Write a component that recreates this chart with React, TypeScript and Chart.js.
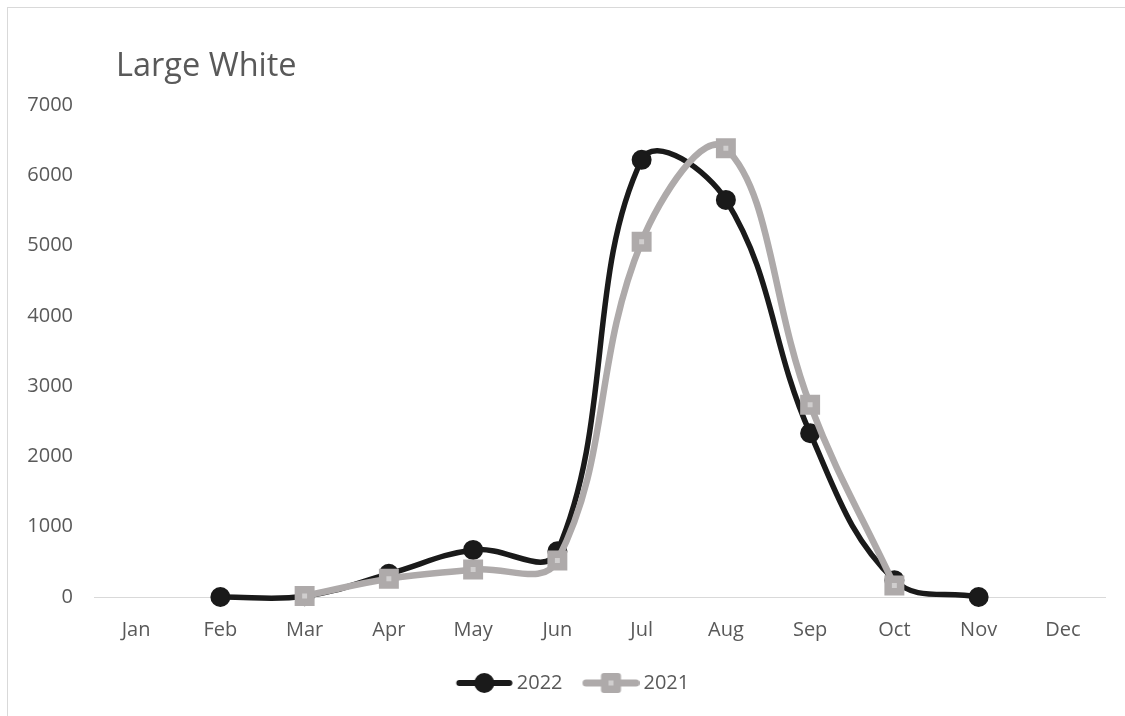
import React, { useEffect, useRef } from "react";
import { Chart, registerables } from "chart.js";

Chart.register(...registerables);

const TITLE = "Large White";
const MONTHS = ["Jan", "Feb", "Mar", "Apr", "May", "Jun", "Jul", "Aug", "Sep", "Oct", "Nov", "Dec"];
const SERIES_2022_LABEL = "2022";
const SERIES_2021_LABEL = "2021";
const VALUES_2022: (number | null)[] = [null, 0, 10, 330, 670, 650, 6220, 5650, 2330, 240, 0, null];
const VALUES_2021: (number | null)[] = [null, null, 15, 260, 390, 520, 5055, 6385, 2735, 165, null, null];
const Y_TICKS = [0, 1000, 2000, 3000, 4000, 5000, 6000, 7000];

const BLACK = "#1a1a1a";
const GRAY = "#aeaaaa";
const GRAY_LIGHT = "#d0cece";
const TEXT = "#595959";
const FONT = "'Open Sans', sans-serif";
const ICON_W = 51;

function legendIcon(kind: "circle" | "square"): HTMLCanvasElement {
  const c = document.createElement("canvas");
  c.width = ICON_W + 12;
  c.height = 24;
  const ctx = c.getContext("2d")!;
  const x0 = 6;
  const x1 = ICON_W + 12;
  const cx = (x0 + x1) / 2;
  ctx.lineCap = "round";
  ctx.lineWidth = kind === "circle" ? 6 : 7;
  ctx.strokeStyle = kind === "circle" ? BLACK : GRAY;
  ctx.beginPath();
  ctx.moveTo(x0 + 3.5, 12);
  ctx.lineTo(x1 - 3.5, 12);
  ctx.stroke();
  if (kind === "circle") {
    ctx.fillStyle = BLACK;
    ctx.beginPath();
    ctx.arc(cx, 12, 10, 0, Math.PI * 2);
    ctx.fill();
  } else {
    ctx.fillStyle = GRAY;
    ctx.beginPath();
    (ctx as any).roundRect ? (ctx as any).roundRect(cx - 10, 2, 20, 20, 3) : ctx.rect(cx - 10, 2, 20, 20);
    ctx.fill();
    ctx.fillStyle = GRAY_LIGHT;
    ctx.fillRect(cx - 2.5, 9.5, 5, 5);
  }
  return c;
}

export default function App() {
  const ref = useRef<HTMLCanvasElement>(null);

  useEffect(() => {
    if (!ref.current) return;
    const icons = [legendIcon("circle"), legendIcon("square")];
    const titlePlugin = {
      id: "excelTitle",
      afterLayout(chart: any) {
        const lg = chart.legend;
        if (lg) {
          lg.left += 20;
          lg.right += 20;
        }
      },
      afterDraw(chart: any) {
        const { ctx, chartArea } = chart;
        ctx.save();
        ctx.font = `32.5px ${FONT}`;
        ctx.fillStyle = TEXT;
        ctx.textBaseline = "middle";
        ctx.textAlign = "left";
        ctx.fillText(TITLE, chartArea.left + 22, 67);
        ctx.restore();
      },
    };
    const chart = new Chart(ref.current, {
      type: "line",
      data: {
        labels: MONTHS,
        datasets: [
          {
            label: SERIES_2022_LABEL,
            data: VALUES_2022,
            order: 1,
            clip: 12,
            borderColor: BLACK,
            backgroundColor: BLACK,
            borderWidth: 5.5,
            tension: 0.4,
            pointStyle: "circle",
            pointRadius: 9,
            pointBorderWidth: 2,
            pointBackgroundColor: BLACK,
            pointBorderColor: BLACK,
            borderCapStyle: "round",
          },
          {
            label: SERIES_2021_LABEL,
            data: VALUES_2021,
            order: 0,
            clip: 12,
            borderColor: GRAY,
            backgroundColor: GRAY_LIGHT,
            borderWidth: 6.5,
            tension: 0.4,
            pointStyle: "rect",
            pointRadius: 8.8,
            pointBorderWidth: 7.5,
            pointBackgroundColor: GRAY_LIGHT,
            pointBorderColor: GRAY,
            borderCapStyle: "round",
          },
        ],
      },
      options: {
        animation: false,
        responsive: false,
        maintainAspectRatio: false,
        elements: { line: { capBezierPoints: false } },
        layout: { padding: { top: 105, right: 20, bottom: 13, left: 0 } },
        plugins: {
          title: { display: false },
          tooltip: { enabled: false },
          legend: {
            position: "bottom",
            labels: {
              usePointStyle: true,
              pointStyleWidth: ICON_W,
              padding: 20,
              color: TEXT,
              font: { family: FONT, size: 20 },
              generateLabels: (ch: any) =>
                ch.data.datasets.map((ds: any, i: number) => ({
                  text: ds.label,
                  datasetIndex: i,
                  pointStyle: icons[i],
                  fillStyle: "transparent",
                  strokeStyle: "transparent",
                  lineWidth: 0,
                  fontColor: TEXT,
                  hidden: false,
                })),
            },
          },
        },
        scales: {
          x: {
            offset: true,
            grid: { display: true, drawOnChartArea: false, drawTicks: false, offset: false },
            border: { display: true, color: "#d9d9d9", width: 1 },
            ticks: { color: TEXT, font: { family: FONT, size: 20 }, padding: 21 },
            afterFit: (s: any) => {
              s.height = 56;
            },
          },
          y: {
            min: 0,
            max: 7000,
            grid: { display: false },
            border: { display: false },
            afterBuildTicks: (s: any) => {
              s.ticks = Y_TICKS.map((v) => ({ value: v }));
            },
            ticks: {
              color: TEXT,
              font: { family: FONT, size: 20 },
              padding: 13,
              callback: (v: any) => String(v),
            },
            afterFit: (s: any) => {
              s.width = 94;
            },
          },
        },
      },
      plugins: [titlePlugin],
    });
    return () => chart.destroy();
  }, []);

  return (
    <div style={{ position: "fixed", left: 0, top: 0, width: 1125, height: 716, background: "#fff" }}>
      <div
        style={{
          position: "absolute",
          left: 7,
          top: 7,
          right: -10,
          bottom: -10,
          borderLeft: "1px solid #d9d9d9",
          borderTop: "1px solid #d9d9d9",
        }}
      />
      <canvas ref={ref} width={1125} height={716} style={{ position: "absolute", left: 0, top: 0 }} />
    </div>
  );
}
